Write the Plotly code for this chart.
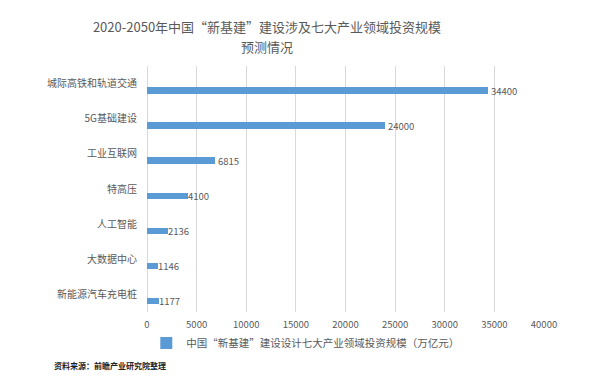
import plotly.graph_objects as go

categories = ["城际高铁和轨道交通", "5G基础建设", "工业互联网", "特高压", "人工智能", "大数据中心", "新能源汽车充电桩"]
values = [34400, 24000, 6815, 4100, 2136, 1146, 1177]
series_name = "中国“新基建”建设设计七大产业领域投资规模（万亿元）"
x_ticks = [0, 5000, 10000, 15000, 20000, 25000, 30000, 35000, 40000]
title_line1 = "2020-2050年中国“新基建”建设涉及七大产业领域投资规模"
title_line2 = "预测情况"
source_text = "资料来源：前瞻产业研究院整理"

FONT = "Noto Sans CJK SC"
GREY = "#595959"

# page is 598x387; the browser body has an 8px margin, so the figure is placed at (8, 8)
OX, OY = 8, 8
PAGE_W, PAGE_H = 598, 387
W, H = PAGE_W - OX, PAGE_H - OY
# plot area in page pixels
PL, PR, PT, PB = 146.7, 544.3, 66, 312
L, R, T, B = PL - OX, PAGE_W - PR, PT - OY, PAGE_H - PB
pw, ph = PR - PL, PB - PT

def px2x(px):
    return (px - PL) / pw

def py2y(py):
    return (PB - py) / ph

fig = go.Figure()
fig.add_trace(go.Bar(
    y=categories, x=values, orientation="h",
    name=series_name,
    marker=dict(color="#5b9bd5", line=dict(width=0)),
    width=0.185, offset=0.10,
    text=[str(v) for v in values], textposition="outside",
    constraintext="none",
    textfont=dict(family=FONT, size=9.5, color=GREY),
    cliponaxis=False,
))

fig.update_layout(
    width=W, height=H,
    margin=dict(l=L, r=R, t=T, b=B, pad=0, autoexpand=False),
    paper_bgcolor="white", plot_bgcolor="white",
    font=dict(family=FONT, color=GREY),
    title=dict(text=title_line1, x=(267 - OX) / W, xanchor="center", xref="container",
               y=1 - (27 - OY) / H, yanchor="middle", yref="container",
               font=dict(family=FONT, size=13, color=GREY)),
    showlegend=True,
    legend=dict(orientation="h", x=px2x(146), xanchor="left", y=py2y(343), yanchor="middle",
                font=dict(family=FONT, size=10.5, color=GREY), bgcolor="rgba(0,0,0,0)",
                itemwidth=30),
    bargap=0,
)

fig.update_xaxes(range=[0, 40000], tickvals=x_ticks, tickformat="d",
                 showgrid=True, gridcolor="#d9d9d9", gridwidth=1,
                 zeroline=True, zerolinecolor="#d9d9d9", zerolinewidth=1,
                 showline=False, ticks="", ticklabelstandoff=5,
                 tickfont=dict(family=FONT, size=9.5, color=GREY))
fig.update_yaxes(autorange="reversed", type="category", showgrid=False, zeroline=False,
                 showline=False, ticks="", ticklabelstandoff=9,
                 tickfont=dict(family=FONT, size=10, color=GREY))

fig.add_annotation(text=title_line2, xref="paper", yref="paper",
                   x=px2x(267), y=py2y(46), xanchor="center", yanchor="middle",
                   showarrow=False, font=dict(family=FONT, size=13, color=GREY))
fig.add_annotation(text="<b>" + source_text + "</b>", xref="paper", yref="paper",
                   x=px2x(52), y=py2y(365), xanchor="left", yanchor="middle",
                   showarrow=False, font=dict(family=FONT, size=8, color="#222222"))

fig.write_html("out.html")
